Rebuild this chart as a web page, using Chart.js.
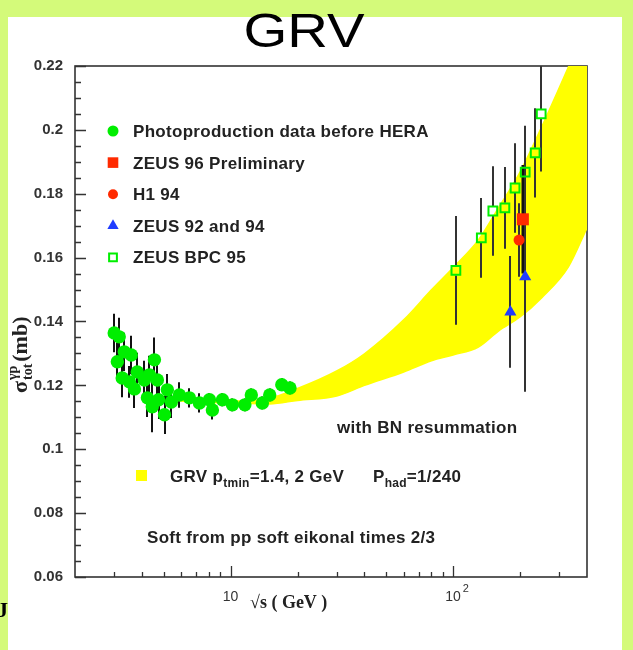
<!DOCTYPE html>
<html>
<head>
<meta charset="utf-8">
<script src="https://cdn.jsdelivr.net/npm/chart.js@4.4.1/dist/chart.umd.min.js"></script>
<style>
  body { margin: 0; background: #d4fa7a; }
  canvas { display: block; }
</style>
</head>
<body>
<canvas id="grv" width="633" height="650"></canvas>
<script>
// photoproduction data before HERA (sqrt(s) in GeV, sigma in mb)
const photoX = [3.00, 3.10, 3.16, 3.26, 3.33, 3.51, 3.58, 3.70, 3.81, 4.10, 4.23, 4.32, 4.45, 4.55, 4.69, 4.75, 5.05, 5.20, 5.42, 5.89, 6.53, 7.25, 8.04, 8.29, 9.20, 10.2, 11.6, 12.4, 13.9, 15.0, 17.0, 18.5];
const photoY = [0.1364, 0.1274, 0.1352, 0.1223, 0.1305, 0.1211, 0.1295, 0.1189, 0.1242, 0.1217, 0.1161, 0.1233, 0.1133, 0.1280, 0.1217, 0.1155, 0.1108, 0.1186, 0.1148, 0.1170, 0.1161, 0.1145, 0.1155, 0.1123, 0.1155, 0.1139, 0.1139, 0.1170, 0.1145, 0.1170, 0.1202, 0.1192];
const photoErr = [0.006, 0.006, 0.006, 0.006, 0.006, 0.005, 0.006, 0.006, 0.006, 0.006, 0.006, 0.006, 0.008, 0.007, 0.006, 0.006, 0.006, 0.005, 0.005, 0.004, 0.003, 0.003, 0.002, 0.003, 0.002, 0.002, 0.002, 0.002, 0.002, 0.002, 0.002, 0.002];

// ZEUS BPC 95
const bpcX = [103, 134, 151, 171, 190, 211, 234, 249];
const bpcY = [0.156, 0.1662, 0.1746, 0.1756, 0.1818, 0.1868, 0.1928, 0.205];
const bpcErr = [0.017, 0.0125, 0.014, 0.0128, 0.014, 0.0145, 0.014, 0.018];

// ZEUS 96 preliminary, H1 94, ZEUS 92 and 94
const zeus96X = [206];
const zeus96Y = [0.172];
const zeus96Err = [0.017];
const h1X = [198];
const h1Y = [0.1655];
const h1Err = [0.0115];
const zeusX = [181, 211];
const zeusY = [0.143, 0.154];
const zeusErr = [0.0175, 0.036];

// GRV band (ptmin = 1.4 and 2 GeV)
const bandX = [5, 7, 10, 15, 20, 30, 40, 60, 80, 100, 130, 160, 200, 250, 330, 400];
const bandLow = [0.1155, 0.1148, 0.1145, 0.1142, 0.1153, 0.1167, 0.1200, 0.1242, 0.1277, 0.1295, 0.1320, 0.1370, 0.1414, 0.1474, 0.1571, 0.1693];
const bandHigh = [0.1161, 0.1153, 0.1151, 0.1160, 0.1190, 0.1245, 0.1299, 0.1405, 0.1499, 0.1568, 0.1655, 0.1756, 0.1868, 0.2009, 0.2197, 0.2330];

// axis ticks
const yTicks = [0.06, 0.08, 0.1, 0.12, 0.14, 0.16, 0.18, 0.2, 0.22];
const xMajor = [10, 100];
const xMinor = [3, 4, 5, 6, 7, 8, 9, 20, 30, 40, 50, 60, 70, 80, 90, 200, 300];

const pts = (xs, ys) => xs.map((v, i) => ({x: v, y: ys[i]}));

const GREEN = '#00ee00';
const RED = '#ff2a00';
const BLUE = '#1f3cff';
const YELLOW = '#ffff00';
const INK = '#222';

const sans = '"Liberation Sans", Arial, sans-serif';
const serif = '"Liberation Serif", "Times New Roman", serif';

// page background, frame, ticks
const framePlugin = {
  id: 'framePlugin',
  beforeDraw(chart) {
    const ctx = chart.ctx;
    ctx.save();
    ctx.fillStyle = '#d4fa7a';
    ctx.fillRect(0, 0, chart.width, chart.height);
    ctx.fillStyle = '#fff';
    ctx.fillRect(8, 17, 614, 633);
    ctx.restore();
  },
  beforeDatasetsDraw(chart) {
    const {ctx, chartArea: a, scales: {x, y}} = chart;
    ctx.save();
    ctx.strokeStyle = '#333';
    ctx.lineWidth = 1.6;
    ctx.strokeRect(a.left, a.top, a.right - a.left, a.bottom - a.top);
    ctx.lineWidth = 1.3;
    ctx.beginPath();
    for (let k = 12; k <= 44; k++) {
      const py = Math.round(y.getPixelForValue(k * 0.005)) + 0.5;
      const len = k % 4 === 0 ? 11 : 6;
      ctx.moveTo(a.left, py);
      ctx.lineTo(a.left + len, py);
    }
    xMinor.forEach(v => {
      const px = Math.round(x.getPixelForValue(v)) + 0.5;
      ctx.moveTo(px, a.bottom);
      ctx.lineTo(px, a.bottom - 5);
    });
    xMajor.forEach(v => {
      const px = Math.round(x.getPixelForValue(v)) + 0.5;
      ctx.moveTo(px, a.bottom);
      ctx.lineTo(px, a.bottom - 11);
    });
    ctx.stroke();
    ctx.restore();
  }
};

// vertical error bars, drawn after the band and before the markers
const errorBars = {
  id: 'errorBars',
  afterDatasetDraw(chart, args) {
    if (args.index !== 5) return;
    const {ctx, chartArea: a, scales: {x, y}} = chart;
    ctx.save();
    ctx.beginPath();
    ctx.rect(a.left, a.top, a.right - a.left, a.bottom - a.top);
    ctx.clip();
    chart.data.datasets.forEach(ds => {
      if (!ds.errors) return;
      ctx.strokeStyle = ds.barColor;
      ctx.lineWidth = ds.barWidth;
      ds.data.forEach((p, j) => {
        const px = Math.round(x.getPixelForValue(p.x));
        const py = y.getPixelForValue(p.y);
        const top = y.getPixelForValue(p.y + ds.errors[j]);
        const bot = y.getPixelForValue(p.y - ds.errors[j]);
        ctx.beginPath();
        ctx.moveTo(px, top);
        ctx.lineTo(px, py - ds.barGap);
        ctx.moveTo(px, py + ds.barGap);
        ctx.lineTo(px, bot);
        ctx.stroke();
      });
    });
    ctx.restore();
  }
};

function drawRun(ctx, x, y, parts) {
  // parts: [text, size, dy]
  parts.forEach(([t, size, dy]) => {
    ctx.font = 'bold ' + size + 'px ' + sans;
    ctx.fillText(t, x, y + dy);
    x += ctx.measureText(t).width;
  });
}

// title, labels, legend and notes
const textPlugin = {
  id: 'textPlugin',
  afterDraw(chart) {
    const {ctx, chartArea: a, scales: {x}} = chart;
    ctx.save();
    ctx.fillStyle = '#000';
    ctx.textBaseline = 'alphabetic';

    // title
    ctx.font = '49px ' + sans;
    const tw = ctx.measureText('GRV').width;
    ctx.save();
    ctx.translate(304, 47);
    ctx.scale(121 / tw, 1);
    ctx.textAlign = 'center';
    ctx.fillText('GRV', 0, 0);
    ctx.restore();

    // stray letter on the left border
    ctx.font = 'bold 22px ' + serif;
    ctx.fillText('J', -3, 617);

    // x tick labels
    ctx.fillStyle = '#333';
    xMajor.forEach((v, i) => {
      const px = x.getPixelForValue(v);
      ctx.font = '14px ' + sans;
      ctx.textAlign = 'center';
      ctx.fillText('10', px, 601);
      if (i > 0) {
        const w = ctx.measureText('10').width;
        ctx.font = '11px ' + sans;
        ctx.textAlign = 'left';
        ctx.fillText(String(Math.round(Math.log10(v))), px + w / 2 + 2, 592);
      }
    });

    // x title
    ctx.fillStyle = INK;
    ctx.textAlign = 'left';
    ctx.font = 'bold 18px ' + serif;
    ctx.fillText('\u221As ( GeV )', 250, 608);

    // y title, rotated
    ctx.save();
    ctx.translate(27, 393);
    ctx.rotate(-Math.PI / 2);
    ctx.font = 'bold 22px ' + serif;
    ctx.fillText('\u03C3', 0, 0);
    let cx = ctx.measureText('\u03C3').width + 1;
    ctx.font = 'bold 14px ' + serif;
    ctx.fillText('tot', cx, 5);
    ctx.fillText('\u03B3p', cx, -10);
    cx += Math.max(ctx.measureText('tot').width, ctx.measureText('\u03B3p').width) + 2;
    ctx.font = 'bold 22px ' + serif;
    ctx.fillText('(mb)', cx, 0);
    ctx.restore();

    // legend
    const ds = chart.data.datasets;
    const legend = [
      [4, 'circle', 5.5],
      [1, 'rect', 7.5],
      [2, 'circle', 5],
      [3, 'triangle', 6.5],
      [0, 'rect', 5.5]
    ];
    ctx.letterSpacing = '0.3px';
    legend.forEach(([i, style, r], row) => {
      const cy = 131 + row * 31.6;
      const d = ds[i];
      ctx.fillStyle = d.pointBackgroundColor;
      ctx.strokeStyle = d.pointBorderColor;
      ctx.lineWidth = d.pointBorderWidth;
      Chart.helpers.drawPoint(ctx, {pointStyle: style, radius: r, rotation: 0, borderWidth: d.pointBorderWidth}, a.left + 38, cy);
      ctx.fillStyle = INK;
      ctx.font = 'bold 17px ' + sans;
      ctx.fillText(d.label, a.left + 58, cy + 6);
    });

    // notes inside the frame
    ctx.fillStyle = INK;
    ctx.font = 'bold 17px ' + sans;
    ctx.fillText('with BN resummation', 337, 433);

    ctx.fillStyle = YELLOW;
    ctx.fillRect(136, 470, 11, 11);
    ctx.fillStyle = INK;
    drawRun(ctx, 170, 482, [['GRV p', 17, 0], ['tmin', 12, 5], ['=1.4, 2 GeV', 17, 0]]);
    drawRun(ctx, 373, 482, [['P', 17, 0], ['had', 12, 5], ['=1/240', 17, 0]]);

    ctx.font = 'bold 17px ' + sans;
    ctx.fillText('Soft from pp soft eikonal times 2/3', 147, 543);
    ctx.restore();
  }
};

new Chart(document.getElementById('grv'), {
  type: 'scatter',
  data: {
    datasets: [
      {
        label: 'ZEUS BPC 95',
        data: pts(bpcX, bpcY),
        pointStyle: 'rect',
        pointRadius: 6.2,
        pointBackgroundColor: 'rgba(0,0,0,0)',
        pointBorderColor: GREEN,
        pointBorderWidth: 2,
        errors: bpcErr, barColor: '#333', barWidth: 2, barGap: 5
      },
      {
        label: 'ZEUS 96 Preliminary',
        data: pts(zeus96X, zeus96Y),
        pointStyle: 'rect',
        pointRadius: 8.5,
        pointBackgroundColor: RED,
        pointBorderColor: RED,
        pointBorderWidth: 0,
        errors: zeus96Err, barColor: '#111', barWidth: 3, barGap: 0
      },
      {
        label: 'H1 94',
        data: pts(h1X, h1Y),
        pointStyle: 'circle',
        pointRadius: 5.5,
        pointBackgroundColor: RED,
        pointBorderColor: RED,
        pointBorderWidth: 0,
        errors: h1Err, barColor: '#333', barWidth: 2, barGap: 0
      },
      {
        label: 'ZEUS 92 and 94',
        data: pts(zeusX, zeusY),
        pointStyle: 'triangle',
        pointRadius: 7,
        pointBackgroundColor: BLUE,
        pointBorderColor: BLUE,
        pointBorderWidth: 0,
        errors: zeusErr, barColor: '#333', barWidth: 2, barGap: 0
      },
      {
        label: 'Photoproduction data before HERA',
        data: pts(photoX, photoY),
        pointStyle: 'circle',
        pointRadius: 6.7,
        pointBackgroundColor: GREEN,
        pointBorderColor: GREEN,
        pointBorderWidth: 0,
        errors: photoErr, barColor: '#111', barWidth: 2, barGap: 0
      },
      {
        label: 'band low',
        data: pts(bandX, bandLow),
        showLine: true,
        pointRadius: 0,
        borderColor: YELLOW,
        borderWidth: 1.5,
        cubicInterpolationMode: 'monotone',
        fill: false
      },
      {
        label: 'band high',
        data: pts(bandX, bandHigh),
        showLine: true,
        pointRadius: 0,
        borderColor: YELLOW,
        borderWidth: 1.5,
        backgroundColor: YELLOW,
        cubicInterpolationMode: 'monotone',
        fill: '-1'
      }
    ]
  },
  options: {
    responsive: false,
    animation: false,
    events: [],
    layout: { padding: { left: 0, top: 66, right: 46, bottom: 0 } },
    plugins: {
      legend: { display: false },
      tooltip: { enabled: false }
    },
    scales: {
      x: {
        type: 'logarithmic',
        min: 2,
        max: 400,
        grid: { display: false, drawTicks: false },
        border: { display: false },
        ticks: { display: false },
        afterFit: s => { s.height = 73; }
      },
      y: {
        min: 0.06,
        max: 0.22,
        grid: { display: false, drawTicks: false },
        border: { display: false },
        afterBuildTicks: s => { s.ticks = yTicks.map(v => ({value: v})); },
        ticks: {
          padding: 12,
          color: '#333',
          font: { family: sans, size: 15, weight: 'bold' },
          callback: v => String(v)
        },
        afterFit: s => { s.width = 75; }
      }
    }
  },
  plugins: [framePlugin, errorBars, textPlugin]
});
</script>
</body>
</html>
